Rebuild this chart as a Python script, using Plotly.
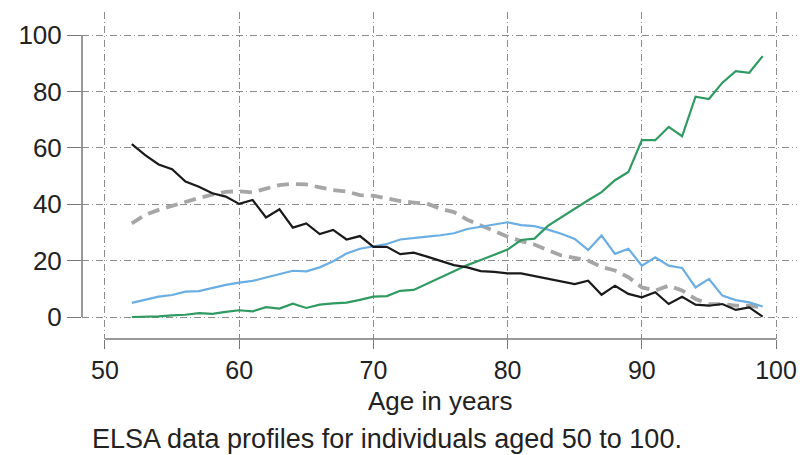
import plotly.graph_objects as go

ages = list(range(52, 100))

black_vals = [61.3, 57.4, 54.1, 52.4, 48.0, 46.2, 43.9, 42.7, 40.1, 41.5,
              35.3, 38.2, 31.7, 33.2, 29.4, 30.9, 27.5, 28.7, 24.9, 24.9,
              22.3, 22.8, 21.4, 20.0, 18.4, 17.6, 16.3, 16.0, 15.5, 15.5,
              14.5, 13.5, 12.6, 11.7, 12.9, 7.9, 11.1, 8.2, 7.0, 8.8,
              4.6, 7.2, 4.4, 4.0, 4.6, 2.5, 3.4, 0.1]

green_vals = [0.0, 0.0, 0.2, 0.6, 0.8, 1.4, 1.1, 1.8, 2.4, 2.0,
              3.5, 3.0, 4.7, 3.2, 4.4, 4.8, 5.1, 6.1, 7.2, 7.4,
              9.3, 9.6, 11.8, 13.8, 16.0, 18.4, 20.2, 22.0, 23.9, 27.3,
              27.8, 32.3, 35.4, 38.4, 41.4, 44.3, 48.5, 51.4, 62.7, 62.7,
              67.4, 64.1, 78.1, 77.3, 83.1, 87.2, 86.6, 92.5]

blue_vals = [5.0, 6.2, 7.2, 7.8, 9.0, 9.2, 10.4, 11.4, 12.2, 12.8,
             14.0, 15.2, 16.4, 16.2, 17.6, 19.8, 22.5, 24.2, 25.1, 25.9,
             27.5, 28.1, 28.5, 29.0, 29.7, 31.2, 32.0, 32.6, 33.6, 32.6,
             32.2, 31.0, 29.5, 27.7, 23.8, 28.9, 22.4, 24.2, 18.2, 21.2,
             18.2, 17.4, 10.5, 13.5, 7.6, 6.0, 5.2, 3.7]

gray_vals = [33.2, 36.2, 38.0, 39.4, 41.0, 42.2, 43.4, 44.4, 44.6, 44.2,
             45.5, 46.8, 47.2, 47.0, 46.0, 45.0, 44.5, 43.2, 43.0, 42.0,
             41.1, 40.6, 40.2, 38.4, 37.2, 34.5, 32.4, 30.5, 28.5, 26.9,
             25.7, 23.7, 21.8, 21.0, 20.0, 17.7, 16.5, 14.1, 10.5, 9.4,
             11.1, 9.4, 6.4, 4.6, 4.6, 4.0, 4.0, 3.4]

x_ticks = [50, 60, 70, 80, 90, 100]
y_ticks = [0, 20, 40, 60, 80, 100]

FONT = "Liberation Sans, Arial, sans-serif"
TXT = "#222222"
GRID = "#8c8c8c"

fig = go.Figure()
fig.add_trace(go.Scatter(x=ages, y=gray_vals, mode="lines",
                         line=dict(color="#a6a6a6", width=3.8, dash="12px,7px")))
fig.add_trace(go.Scatter(x=ages, y=blue_vals, mode="lines",
                         line=dict(color="#6aaee3", width=2.2)))
fig.add_trace(go.Scatter(x=ages, y=green_vals, mode="lines",
                         line=dict(color="#2f9a62", width=2.2)))
fig.add_trace(go.Scatter(x=ages, y=black_vals, mode="lines",
                         line=dict(color="#1a1a1a", width=2.2)))

fig.update_layout(
    width=800, height=455,
    margin=dict(l=82, r=3, t=12, b=116),
    paper_bgcolor="white", plot_bgcolor="white",
    showlegend=False,
    font=dict(family=FONT, size=25, color=TXT),
    xaxis=dict(range=[48.29, 101.56], tickvals=x_ticks, ticks="outside",
               ticklen=9, tickcolor="#777", tickwidth=1,
               showgrid=True, gridcolor=GRID, griddash="7px,3px,1px,3px",
               gridwidth=1, zeroline=False, showline=False,
               tickfont=dict(family=FONT, size=25, color=TXT)),
    yaxis=dict(range=[-7.8, 108.16], tickvals=y_ticks, ticks="outside",
               ticklen=14, tickcolor="#777", tickwidth=1,
               showgrid=True, gridcolor=GRID, griddash="7px,3px,1px,3px",
               gridwidth=1, zeroline=False, showline=False,
               tickfont=dict(family=FONT, size=26, color=TXT)),
)

# Stata-style axis lines spanning the tick range only
fig.add_shape(type="line", xref="paper", yref="y", x0=0, x1=0, y0=0, y1=100,
              line=dict(color="#777", width=1.5))
fig.add_shape(type="line", xref="x", yref="paper", x0=50, x1=100, y0=0, y1=0,
              line=dict(color="#777", width=1.5))

fig.add_annotation(text="Age in years", xref="x", yref="paper", x=75, y=-0.19,
                   xanchor="center", yanchor="middle", showarrow=False,
                   font=dict(family=FONT, size=26, color=TXT))
fig.add_annotation(text="ELSA data profiles for individuals aged 50 to 100.",
                   xref="paper", yref="paper", x=(90 - 82) / 715, y=-0.305,
                   xanchor="left", yanchor="middle", showarrow=False,
                   font=dict(family=FONT, size=27, color=TXT))

fig.write_html("out.html")
